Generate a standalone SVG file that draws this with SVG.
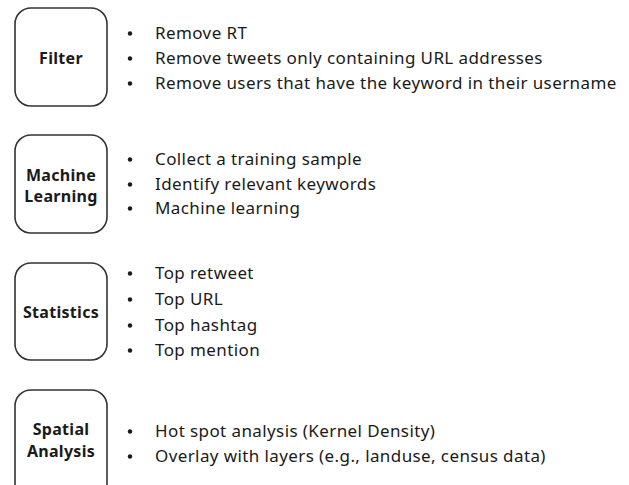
<svg xmlns="http://www.w3.org/2000/svg" width="629" height="485" viewBox="0 0 629 485">
<style>
.box{fill:#fff;stroke:#333;stroke-width:1.6}
.lbl{font-family:"Noto Sans","Open Sans",sans-serif;font-weight:bold;font-size:16px;letter-spacing:0.3px;fill:#1a1a1a;text-anchor:middle}
.it{font-family:"Noto Sans","Open Sans",sans-serif;font-size:17px;letter-spacing:0.4px;fill:#1a1a1a}
.b{fill:#1a1a1a}
</style>
<rect width="629" height="485" fill="#fff"/>
<g id="filter">
<rect class="box" x="15" y="8" width="92" height="98" rx="16"/>
<text class="lbl" x="61" y="64">Filter</text>
</g>
<g id="filter-items">
<circle class="b" cx="130" cy="33.5" r="2.2"/><text class="it" x="155" y="39">Remove RT</text>
<circle class="b" cx="130" cy="58.5" r="2.2"/><text class="it" x="155" y="64">Remove tweets only containing URL addresses</text>
<circle class="b" cx="130" cy="83.5" r="2.2"/><text class="it" x="155" y="89">Remove users that have the keyword in their username</text>
</g>
<g id="ml">
<rect class="box" x="15" y="135" width="92" height="98" rx="16"/>
<text class="lbl" x="61" y="181">Machine</text>
<text class="lbl" x="61" y="202">Learning</text>
</g>
<g id="ml-items">
<circle class="b" cx="130" cy="159.5" r="2.2"/><text class="it" x="155" y="165">Collect a training sample</text>
<circle class="b" cx="130" cy="184.5" r="2.2"/><text class="it" x="155" y="190">Identify relevant keywords</text>
<circle class="b" cx="130" cy="208.5" r="2.2"/><text class="it" x="155" y="214">Machine learning</text>
</g>
<g id="stats">
<rect class="box" x="15" y="263" width="92" height="97" rx="16"/>
<text class="lbl" x="61" y="318">Statistics</text>
</g>
<g id="stats-items">
<circle class="b" cx="130" cy="273.5" r="2.2"/><text class="it" x="155" y="279">Top retweet</text>
<circle class="b" cx="130" cy="299.5" r="2.2"/><text class="it" x="155" y="305">Top URL</text>
<circle class="b" cx="130" cy="325.5" r="2.2"/><text class="it" x="155" y="331">Top hashtag</text>
<circle class="b" cx="130" cy="350.5" r="2.2"/><text class="it" x="155" y="356">Top mention</text>
</g>
<g id="spatial">
<rect class="box" x="15" y="390" width="92" height="110" rx="16"/>
<text class="lbl" x="61" y="435">Spatial</text>
<text class="lbl" x="61" y="457">Analysis</text>
</g>
<g id="spatial-items">
<circle class="b" cx="130" cy="431.5" r="2.2"/><text class="it" x="155" y="437">Hot spot analysis (Kernel Density)</text>
<circle class="b" cx="130" cy="456.5" r="2.2"/><text class="it" x="155" y="462">Overlay with layers (e.g., landuse, census data)</text>
</g>
<g id="connectors"/>
</svg>
